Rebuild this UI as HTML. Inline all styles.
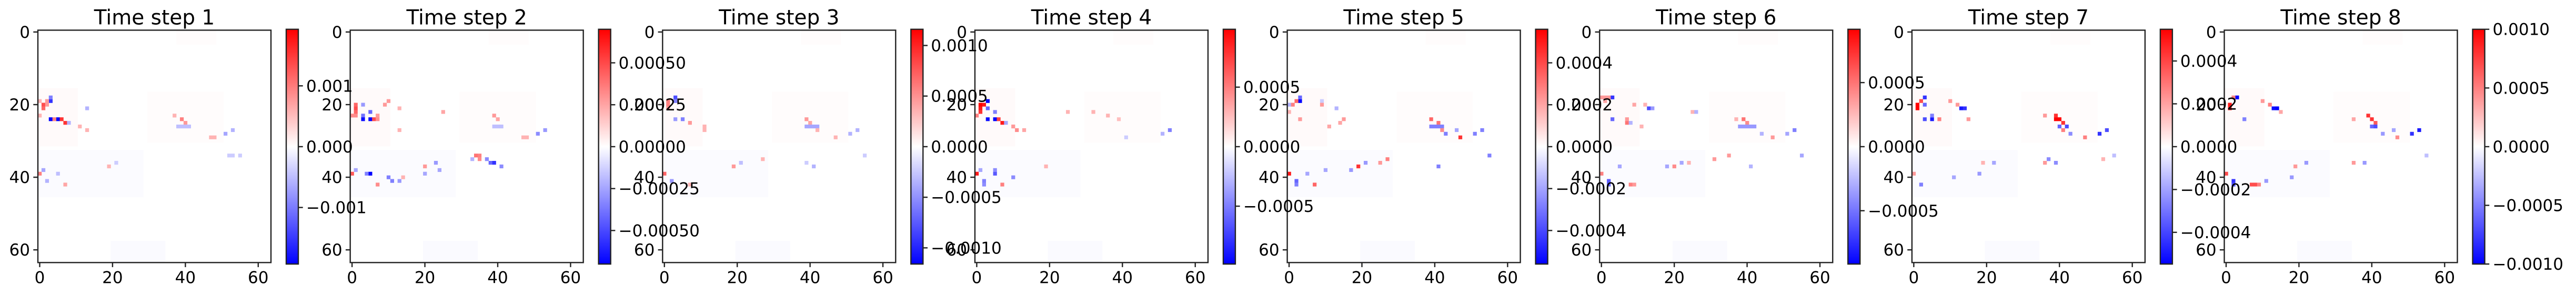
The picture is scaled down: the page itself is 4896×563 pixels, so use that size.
<!DOCTYPE html>
<html><head><meta charset="utf-8"><style>html,body{margin:0;padding:0;background:#fff;}svg{display:block;}</style></head>
<body>
<svg id="fig" xmlns="http://www.w3.org/2000/svg" width="4896" height="563" viewBox="0 0 4896 563" font-family="DejaVu Sans, Liberation Sans, sans-serif"></svg>
<script>
// ---- data ----
const panelTitles = ["Time step 1","Time step 2","Time step 3","Time step 4","Time step 5","Time step 6","Time step 7","Time step 8"];
const vmaxes = [0.00193, 0.0007, 0.00116, 0.000986, 0.00056, 0.000916, 0.000548, 0.001];
const cbTicks1 = [-0.001, 0, 0.001];
const cbTicks2 = [-0.0005, -0.00025, 0, 0.00025, 0.0005];
const cbTicks3 = [-0.001, -0.0005, 0, 0.0005, 0.001];
const cbTicks4 = [-0.0005, 0, 0.0005];
const cbTicks5 = [-0.0004, -0.0002, 0, 0.0002, 0.0004];
const cbTicks6 = [-0.0005, 0, 0.0005];
const cbTicks7 = [-0.0004, -0.0002, 0, 0.0002, 0.0004];
const cbTicks8 = [-0.001, -0.0005, 0, 0.0005, 0.001];
const cbDecimals = [3, 5, 4, 4, 4, 4, 4, 4];
const axisTicks = [0, 20, 40, 60];
// faint background washes shared by all panels: [rowStart,rowEnd,colStart,colEnd,relValue]
const faintWash = [[16,31,0,10,0.018],[17,30,30,50,0.01],[33,45,0,28,-0.014],[58,63,20,34,-0.02],[0,3,38,48,0.01]];
// strong cells [row, col, value relative to panel vmax]
const cellsP1 = [[24,3,-1],[24,5,-1],[24,4,0.5],[25,7,0.8],[24,6,0.8],[19,3,-0.8],[18,3,-0.5],[20,1,0.7],[21,1,0.6],[19,2,0.4],[20,2,0.4],[19,0,0.3],[23,0,0.3],[21,13,-0.3],[26,11,0.3],[27,13,0.3],[24,39,0.5],[25,40,0.4],[23,37,0.3],[26,38,-0.25],[26,39,-0.25],[26,40,-0.25],[26,41,-0.25],[27,53,-0.3],[28,51,-0.35],[29,47,0.3],[29,48,0.3],[34,52,-0.2],[34,53,-0.2],[34,55,-0.2],[39,0,0.5],[38,1,-0.35],[41,2,-0.3],[39,5,-0.25],[42,7,0.35],[37,19,0.3],[36,21,-0.2],[25,8,-0.3]];
const cellsP2 = [[21,1,0.7],[20,1,0.6],[22,1,0.6],[23,0,0.45],[23,1,0.45],[20,3,-0.4],[23,3,-0.55],[24,3,-0.95],[22,5,-0.6],[24,5,-1],[24,6,0.7],[24,7,0.45],[23,7,0.4],[19,10,0.4],[20,9,0.4],[21,13,0.3],[27,13,0.3],[22,25,0.35],[23,39,0.4],[24,40,0.35],[26,39,-0.25],[26,40,-0.25],[26,41,-0.25],[28,51,-0.45],[27,53,-0.4],[29,47,0.3],[29,48,0.3],[34,34,0.55],[34,35,0.5],[35,35,0.45],[35,37,-0.45],[36,38,-0.6],[36,39,-0.8],[37,41,-0.45],[35,33,-0.3],[36,23,-0.4],[37,20,0.4],[38,24,-0.35],[39,0,0.65],[38,1,-0.35],[39,5,-1],[39,4,-0.5],[40,10,-0.5],[41,11,-0.5],[41,13,-0.4],[42,7,0.45],[40,14,0.3],[39,20,-0.35]];
const cellsP3 = [[18,3,-0.7],[19,3,-0.5],[19,1,0.5],[20,1,0.5],[21,1,0.4],[24,3,-0.4],[24,5,-0.5],[25,7,0.4],[27,11,0.3],[26,11,0.3],[24,39,0.4],[25,40,0.35],[26,39,-0.35],[26,40,-0.35],[26,41,-0.35],[26,42,-0.35],[27,42,0.3],[27,53,-0.3],[28,51,-0.3],[29,47,0.3],[34,55,-0.2],[37,41,-0.3],[36,39,-0.2],[39,0,0.6],[41,2,-0.4],[42,7,0.3],[37,19,0.4],[36,21,-0.25],[35,27,0.3]];
const cellsP4 = [[20,1,1],[21,1,0.9],[20,2,0.9],[22,1,0.8],[23,0,0.5],[19,3,-1],[21,3,-0.6],[24,3,-0.95],[24,5,-1],[22,5,-0.5],[24,6,0.75],[25,7,0.9],[25,8,-0.35],[26,10,0.4],[27,11,0.45],[27,13,0.35],[22,25,0.3],[22,32,0.3],[23,36,0.3],[24,39,0.25],[27,53,-0.5],[28,51,-0.3],[29,41,-0.2],[39,0,0.9],[39,5,-0.65],[41,2,-0.5],[42,2,-0.45],[42,7,0.5],[40,10,-0.45],[38,1,-0.35],[37,19,0.3],[38,5,-0.45]];
const cellsP5 = [[19,3,-1],[18,3,-0.6],[19,2,0.6],[20,1,0.5],[20,0,-0.3],[22,0,0.3],[24,3,0.4],[19,9,-0.2],[20,9,0.4],[21,13,-0.3],[24,15,0.4],[26,11,0.35],[25,14,0.35],[24,39,0.6],[25,41,0.55],[26,39,-0.5],[26,40,-0.5],[26,41,-0.5],[26,42,-0.5],[27,42,0.45],[28,43,-0.5],[27,46,-0.35],[29,47,0.8],[28,51,-0.5],[27,53,-0.5],[34,55,-0.5],[39,0,0.9],[41,2,-0.6],[42,2,-0.5],[42,7,0.6],[37,19,0.8],[38,17,-0.4],[36,21,-0.4],[36,25,0.4],[35,27,0.5],[37,41,-0.5],[39,5,-0.35],[38,10,-0.35]];
const cellsP6 = [[18,3,-0.8],[18,0,0.4],[18,1,0.4],[18,2,0.4],[19,1,0.35],[21,13,-0.7],[21,14,-0.4],[24,3,-0.6],[25,7,0.55],[24,7,0.4],[25,8,-0.3],[26,11,0.3],[20,9,0.35],[20,12,0.3],[22,25,0.3],[22,26,-0.3],[24,39,0.55],[25,40,0.45],[24,37,0.3],[26,38,-0.4],[26,39,-0.4],[26,40,-0.4],[26,41,-0.4],[26,42,-0.4],[27,53,-0.5],[28,51,-0.35],[29,47,0.4],[28,44,-0.3],[36,22,-0.35],[36,24,0.3],[37,20,0.45],[37,18,-0.35],[34,35,0.4],[34,55,-0.35],[35,31,0.4],[37,41,-0.3],[39,0,0.5],[41,2,-0.65],[42,2,-0.6],[42,8,0.5],[42,9,0.4],[37,5,-0.35]];
const cellsP7 = [[20,1,1],[21,1,1],[19,2,0.7],[18,3,-0.8],[20,3,-0.6],[21,13,-0.9],[21,14,-0.8],[24,3,-0.7],[24,5,-0.9],[23,5,-0.5],[24,7,0.5],[19,10,0.4],[20,12,0.4],[24,15,0.4],[24,39,1],[24,40,1],[25,41,0.8],[23,39,0.8],[23,36,0.4],[26,40,-0.6],[26,42,-0.7],[27,41,0.5],[28,43,-0.45],[29,47,0.5],[28,51,-0.8],[27,53,-0.7],[34,55,-0.25],[35,52,0.3],[39,0,0.4],[42,2,-0.5],[40,11,-0.35],[39,18,-0.4],[36,19,0.3],[36,22,-0.35],[36,36,0.4],[35,37,-0.45],[36,39,-0.45]];
const cellsP8 = [[20,1,0.9],[21,1,0.8],[18,3,-1],[18,2,0.5],[21,14,-1],[21,13,-0.95],[24,5,-0.5],[20,12,0.5],[19,10,0.4],[22,15,0.35],[23,39,0.8],[24,40,0.8],[25,41,0.65],[24,35,0.35],[26,40,-0.6],[26,41,-0.7],[28,43,-0.4],[27,46,-0.35],[29,47,0.45],[28,51,-0.8],[27,53,-0.9],[34,55,-0.25],[39,0,0.7],[41,2,-0.8],[42,2,-0.7],[42,7,0.7],[42,8,0.7],[42,9,0.5],[41,11,-0.4],[40,18,-0.4],[36,22,-0.4],[37,19,0.4],[36,38,-0.4],[36,35,0.4]];

// ---- layout (not data) ----
const panelCells = [cellsP1,cellsP2,cellsP3,cellsP4,cellsP5,cellsP6,cellsP7,cellsP8];
const panelCbTicks = [cbTicks1,cbTicks2,cbTicks3,cbTicks4,cbTicks5,cbTicks6,cbTicks7,cbTicks8];
const axLeft0 = 72, axStep = 593.65, axW = 443, axTop = 57.4, axH = 442;
const cbOff = 472, cbW = 23, cbTop = 55.7, cbH = 446.5;
const N = 64;
const svg = document.getElementById('fig');
const NS = 'http://www.w3.org/2000/svg';
function mk(tag, attrs, parent){ const e=document.createElementNS(NS,tag); for(const k in attrs) e.setAttribute(k,attrs[k]); (parent||svg).appendChild(e); return e; }
function bwr(v){ v=Math.max(-1,Math.min(1,v)); let r,g,b; if(v<0){r=g=Math.round(255*(1+v));b=255;} else {r=255;g=b=Math.round(255*(1-v));} return `rgb(${r},${g},${b})`; }
function fmt(v,d){ const s=Math.abs(v).toFixed(d); return (v<0?'\u2212':'')+s; }

const defs = mk('defs',{});
const grad = mk('linearGradient',{id:'bwrGrad',x1:0,y1:1,x2:0,y2:0},defs);
mk('stop',{offset:'0','stop-color':'rgb(0,0,255)'},grad);
mk('stop',{offset:'0.5','stop-color':'rgb(255,255,255)'},grad);
mk('stop',{offset:'1','stop-color':'rgb(255,0,0)'},grad);

const textLayer = [];
for(let p=0;p<8;p++){
  const L = axLeft0 + p*axStep;
  const xs = c => L + (c/N)*axW;
  const ys = r => axTop + (r/N)*axH;
  const cw = axW/N, ch = axH/N;
  const g = mk('g',{});
  
  
  const bg = mk('rect',{x:L,y:axTop,width:axW,height:axH,fill:'#fff'},g);
  
  
  faintWash.forEach(w=>{
    const r = mk('rect',{x:xs(w[2]),y:ys(w[0]),width:(w[3]-w[2]+1)*cw,height:(w[1]-w[0]+1)*ch,fill:bwr(w[4])},g);
    
    
  });
  panelCells[p].forEach(c=>{
    const r = mk('rect',{x:xs(c[1]),y:ys(c[0]),width:cw+0.3,height:ch+0.3,fill:bwr(c[2])},g);
    
    
  });
  const sp = mk('rect',{x:L,y:axTop,width:axW,height:axH,fill:'none',stroke:'#222','stroke-width':2.4},g);
  
  
  axisTicks.forEach(t=>{
    const x = xs(t+0.5), y = ys(t+0.5);
    const tx = mk('line',{x1:x,x2:x,y1:axTop+axH,y2:axTop+axH+8.7,stroke:'#222','stroke-width':2.4},g);
    
    
    const ty = mk('line',{x1:L-8.7,x2:L,y1:y,y2:y,stroke:'#222','stroke-width':2.4},g);
    
    
    textLayer.push({x:x,y:axTop+axH+39,t:String(t),a:'middle',s:31,n:'x-tick-label'});
    textLayer.push({x:L-15,y:y+11,t:String(t),a:'end',s:31,n:'y-tick-label'});
  });
  textLayer.push({x:L+axW/2,y:46.7,t:panelTitles[p],a:'middle',s:39,n:'panel-title'});
}
for(let p=0;p<8;p++){
  const CL = axLeft0 + p*axStep + cbOff;
  const vm = vmaxes[p];
  const cy = v => cbTop + cbH*(1 - (v+vm)/(2*vm));
  const g = mk('g',{});
  
  
  const r = mk('rect',{x:CL,y:cbTop,width:cbW,height:cbH,fill:'url(#bwrGrad)',stroke:'#222','stroke-width':2.4},g);
  
  
  panelCbTicks[p].forEach(v=>{
    const y = cy(v);
    const t = mk('line',{x1:CL+cbW,x2:CL+cbW+8.7,y1:y,y2:y,stroke:'#222','stroke-width':2.4},g);
    
    
    textLayer.push({x:CL+cbW+15,y:y+11,t:fmt(v,cbDecimals[p]),a:'start',s:31,n:'colorbar-tick-label'});
  });
}
textLayer.forEach(o=>{
  const e = mk('text',{x:o.x,y:o.y,'text-anchor':o.a,'font-size':o.s,fill:'#000'});
  
  
  e.textContent = o.t;
});
</script>
</body></html>
